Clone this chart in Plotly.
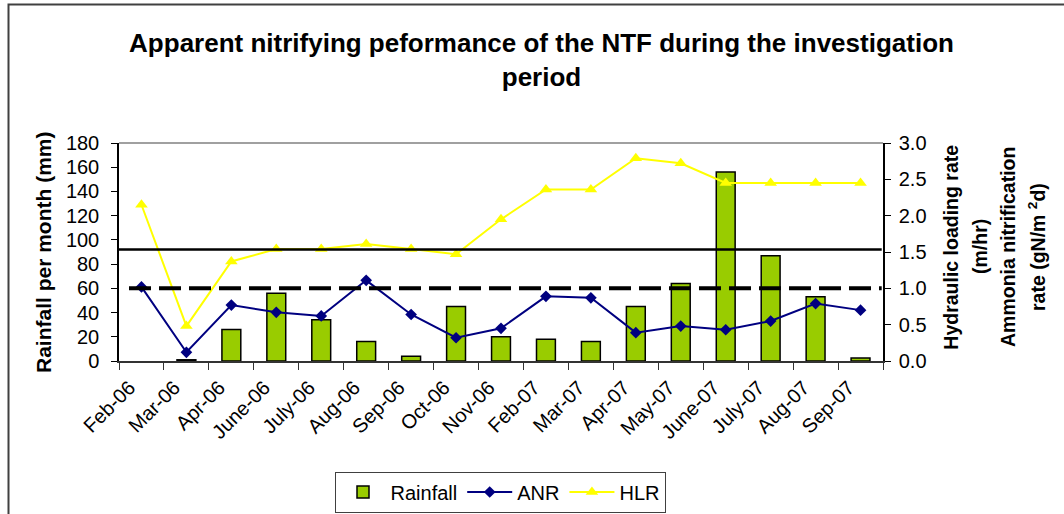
import plotly.graph_objects as go

months = ["Feb-06", "Mar-06", "Apr-06", "June-06", "July-06", "Aug-06", "Sep-06",
          "Oct-06", "Nov-06", "Feb-07", "Mar-07", "Apr-07", "May-07", "June-07",
          "July-07", "Aug-07", "Sep-07"]
rainfall = [None, 1, 26, 56, 34, 16, 4, 45, 20, 18, 16, 45, 64, 156, 87, 53, 2.5]
anr = [1.02, 0.12, 0.77, 0.67, 0.62, 1.11, 0.64, 0.32, 0.45, 0.89, 0.87,
       0.39, 0.48, 0.43, 0.55, 0.79, 0.70]
hlr = [2.15, 0.48, 1.37, 1.54, 1.54, 1.61, 1.54, 1.47, 1.95, 2.36, 2.36,
       2.79, 2.72, 2.45, 2.45, 2.45, 2.45]
hlr_limit = 1.535   # solid reference line (right axis)
anr_limit = 1.0     # dashed reference line (right axis)

W, H = 1064, 514
ML, MR, MT, MB = 119, 181, 143, 153
PW, PH = W - ML - MR, H - MT - MB

def px_x(p):
    return (p - ML) / PW

def px_y(p):
    return (H - MB - p) / PH

FONT = "Liberation Sans, Arial, sans-serif"
n = len(months)

fig = go.Figure()
fig.add_trace(go.Bar(x=months, y=rainfall, name="Rainfall",
                     marker=dict(color="#99CC00", line=dict(color="#000000", width=1.5)),
                     yaxis="y"))
fig.add_trace(go.Scatter(x=months, y=anr, name="ANR", mode="lines+markers",
                         line=dict(color="#000080", width=2),
                         marker=dict(symbol="diamond", size=9, color="#000080"),
                         yaxis="y2"))
fig.add_trace(go.Scatter(x=months, y=hlr, name="HLR", mode="lines+markers",
                         line=dict(color="#FFFF00", width=2),
                         marker=dict(symbol="triangle-up", size=11, color="#FFFF00"),
                         yaxis="y2"))

tickfont = dict(family=FONT, size=20, color="#000000")
bounds = [i - 0.5 for i in range(n + 1)]

fig.update_layout(
    width=W, height=H,
    margin=dict(l=ML, r=MR, t=MT, b=MB, autoexpand=False),
    paper_bgcolor="white", plot_bgcolor="white",
    font=dict(family=FONT, size=20, color="#000000"),
    bargap=0.58,
    title=dict(text="Apparent nitrifying peformance of the NTF during the investigation<br>period",
               font=dict(family=FONT, size=26, color="#000000", weight="bold"),
               xref="container", x=541.5 / W, xanchor="center",
               yref="container", y=1 - 52 / H, yanchor="top"),
    xaxis=dict(type="category", range=[-0.5, n - 0.5], tickson="boundaries",
               ticks="outside", ticklen=7, tickcolor="#333333", tickwidth=1,
               tickangle=-45, tickfont=tickfont, ticklabelstandoff=5,
               ticklabelshift=-12,
               showline=True, linecolor="#333333", linewidth=2,
               showgrid=False, zeroline=False),
    xaxis2=dict(overlaying="x", anchor="y", side="bottom", range=[-0.5, n - 0.5],
                tickmode="array", tickvals=bounds, ticks="inside", ticklen=7,
                tickcolor="#333333", tickwidth=1, showticklabels=False,
                showline=False, showgrid=False, zeroline=False),
    yaxis=dict(range=[0, 180], dtick=20, tick0=0, ticks="outside", ticklen=6,
               tickcolor="#000000", tickfont=tickfont, ticklabelstandoff=8,
               showline=True, linecolor="#000000", linewidth=1.5,
               showgrid=False, zeroline=False),
    yaxis3=dict(overlaying="y", anchor="x", side="left", range=[0, 180], dtick=20, tick0=0,
                ticks="inside", ticklen=6, tickcolor="#000000",
                showticklabels=False, showline=False, showgrid=False, zeroline=False),
    yaxis2=dict(overlaying="y", anchor="x", side="right", range=[0, 3], dtick=0.5, tick0=0,
                tickformat=".1f", ticks="outside", ticklen=6, tickcolor="#000000",
                tickfont=tickfont, ticklabelstandoff=4,
                showline=True, linecolor="#000000", linewidth=1.5,
                showgrid=False, zeroline=False),
    yaxis4=dict(overlaying="y", anchor="x", side="right", range=[0, 3], dtick=0.5, tick0=0,
                ticks="inside", ticklen=6, tickcolor="#000000",
                showticklabels=False, showline=False, showgrid=False, zeroline=False),
    legend=dict(orientation="h", xref="container", x=500 / W, xanchor="center",
                yref="container", y=1.5 / H, yanchor="bottom",
                font=dict(family=FONT, size=20, color="#000000"),
                bgcolor="white", bordercolor="#404040", borderwidth=1,
                itemwidth=45, tracegroupgap=0),
    showlegend=True,
)

shapes = [
    # plot-area top border
    dict(type="line", xref="paper", yref="paper", x0=0, x1=1, y0=1, y1=1,
         line=dict(color="#808080", width=1.5), layer="below"),
    # solid reference line
    dict(type="line", xref="paper", yref="y2", x0=0, x1=px_x(881.7),
         y0=hlr_limit, y1=hlr_limit, line=dict(color="#000000", width=2.5), layer="above"),
    # dashed reference line
    dict(type="line", xref="paper", yref="y2", x0=px_x(129), x1=px_x(881.7),
         y0=anr_limit, y1=anr_limit,
         line=dict(color="#000000", width=4, dash="22px,8px"), layer="above"),
    # outer chart frame (right / bottom edges fall outside the picture)
    dict(type="rect", xref="paper", yref="paper", x0=px_x(8.5), x1=px_x(1080),
         y0=px_y(530), y1=px_y(4.5), line=dict(color="#404040", width=2),
         fillcolor="rgba(0,0,0,0)", layer="below"),
]
fig.update_layout(shapes=shapes)

axis_title_font = dict(family=FONT, size=21, color="#000000", weight="bold")
right_font = dict(family=FONT, size=19.5, color="#000000", weight="bold")
annotations = [
    dict(text="Rainfall per month (mm)", xref="paper", yref="paper",
         x=px_x(43), y=px_y(252), xanchor="center", yanchor="middle",
         textangle=-90, showarrow=False, font=axis_title_font),
]
right_lines = [("Hydraulic loading rate", 950.7), ("(m/hr)", 980),
               ("Ammonia nitrification", 1008), ("rate (gN/m <sup>2</sup>d)", 1037)]
for txt, xc in right_lines:
    annotations.append(dict(text=txt, xref="paper", yref="paper",
                            x=px_x(xc), y=px_y(247), xanchor="center", yanchor="middle",
                            textangle=-90, showarrow=False, font=right_font))
fig.update_layout(annotations=annotations)

fig.write_html("out.html", config={"displayModeBar": False},
               post_script="document.body.style.margin='0px';")
